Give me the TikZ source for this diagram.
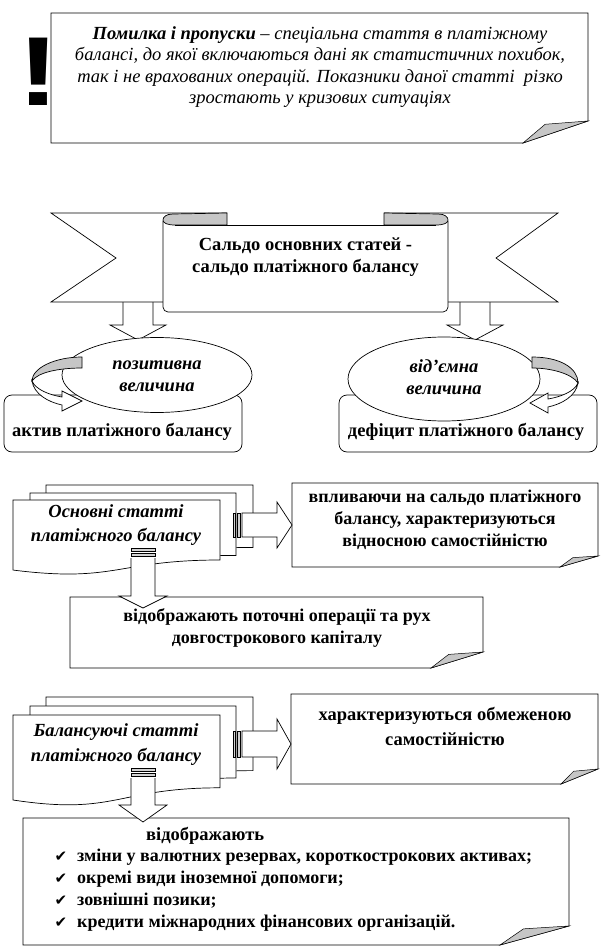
\documentclass[tikz,border=0pt]{standalone}
\usepackage{fontspec}
\setmainfont{Liberation Serif}
\newfontfamily\symfont{DejaVu Sans}
\newfontfamily\exclfont{Liberation Sans}
\usetikzlibrary{shapes.geometric,calc}
\newcommand\foldbox[6]{%
  \draw[line,fill=white] (#1,#2) -- (#3,#2) -- (#3,{#4-#6}) -- ({#3-#5},#4) -- (#1,#4) -- cycle;
  \draw[foldgray] (#3,{#4-#6}) -- ({#3-#5},#4) -- ({#3-#5*0.66},{#4-#6*0.85}) -- cycle;}
\newcommand\docshape[4]{%
  \draw[line,fill=white] (#1,#2) -- (#3,#2) -- (#3,{#2+0.8*#4})
    .. controls ({0.5*(#1+#3)},{#2+0.8*#4}) and ({0.5*(#1+#3)},{#2+1.107*#4}) .. (#1,{#2+0.934*#4}) -- cycle;}
% \blockdown{cx}{top}{headY}{tipY}{shaftHalf}{headHalf}
\newcommand\blockdown[6]{%
  \draw[line,fill=white] ({#1-#5},#2) -- ({#1-#5},#3) -- ({#1-#6},#3) -- (#1,#4) -- ({#1+#6},#3) -- ({#1+#5},#3) -- ({#1+#5},#2);}
\begin{document}
\begin{tikzpicture}[x=1pt,y=-1pt,
  line/.style={draw=black,line width=0.7pt},
  foldgray/.style={fill=gray!45,draw=black,line width=0.5pt},
  txt/.style={font=\fontsize{18.5}{21.5}\selectfont\bfseries,align=center,inner sep=0pt},
  itxt/.style={font=\fontsize{18.5}{21.5}\selectfont\bfseries\itshape,align=center,inner sep=0pt},
  stripe/.style={draw=black,line width=0.5pt,fill=gray!35}]
\fill[white] (0,0) rectangle (601,949);
\useasboundingbox (0,0) rectangle (601,949);

% ---------- top note ----------
\foldbox{51}{13}{588}{143}{65}{22}
\node[align=center,inner sep=0pt,font=\fontsize{18.5}{21.3}\selectfont\itshape] (note) at (320,67)
 {{\bfseries Помилка і пропуски} – спеціальна стаття в платіжному\\балансі, до якої включаються дані як статистичних похибок,\\так і не врахованих операцій. Показники даної статті\ \ різко\\зростають у кризових ситуаціях};
\node[font=\fontsize{98}{98}\selectfont\exclfont\bfseries,inner sep=0pt,xscale=1.3] (excl) at (38.5,72) {!};

% ---------- ribbon ----------
\blockdown{138}{298}{325}{340}{15}{28}
\blockdown{475}{298}{325}{340}{15}{28}
\draw[line,fill=white] (227,213) -- (51,213) -- (116,258) -- (51,302) -- (163,302);
\draw[line,fill=white] (384,213) -- (558,213) -- (496,258) -- (558,302) -- (448,302);
\draw[line,fill=white,rounded corners=5pt] (163,221) -- (163,312) -- (448,312) -- (448,221);
\draw[line] (175,225) -- (436,225);
\draw[line,fill=gray!45] (227,213) -- (173,214) .. controls (166,214) and (163,217) .. (163,220)
   .. controls (163,223) and (167,225) .. (175,225) -- (227,225) -- cycle;
\draw[line,fill=gray!45] (384,213) -- (438,214) .. controls (445,214) and (448,217) .. (448,220)
   .. controls (448,223) and (444,225) .. (436,225) -- (384,225) -- cycle;
\node[txt] (saldo) at (305.5,257) {Сальдо основних статей -\\сальдо платіжного балансу};

% ---------- ellipses and boxes ----------
\node[line,rounded corners=8pt,minimum width=238pt,minimum height=57pt,fill=white] (aktivbox) at (123,423.5) {};
\node[line,rounded corners=8pt,minimum width=258pt,minimum height=57pt,fill=white] (deficitbox) at (468,423.5) {};
\node[txt] (aktiv) at (122,432) {актив платіжного балансу};
\node[txt] (deficit) at (466,432) {дефіцит платіжного балансу};
\node[line,ellipse,fill=white,minimum width=190pt,minimum height=75pt,inner sep=0pt] (pos) at (157,375) {};
\node[line,ellipse,fill=white,minimum width=192pt,minimum height=84pt,inner sep=0pt] (neg) at (444,379) {};
\node[itxt] (post) at (157,376) {позитивна\\величина};
\node[itxt] (negt) at (444,377) {від’ємна\\величина};
% curved arrows
\draw[line,fill=gray!45] (82,357) .. controls (55,357) and (32,368) .. (32,381)
   .. controls (38,372) and (60,368) .. (82,368) -- cycle;
\draw[line,fill=white] (32,381) .. controls (34,394) and (48,402) .. (62,405) -- (62,411) -- (82,401)
   -- (62,391) -- (62,397) .. controls (50,395) and (36,390) .. (32,381) -- cycle;
\draw[line,fill=gray!45] (532,357) .. controls (560,357) and (578,368) .. (578,383)
   .. controls (572,374) and (552,368) .. (532,368) -- cycle;
\draw[line,fill=white] (578,383) .. controls (576,396) and (562,404) .. (548,407) -- (548,413) -- (530,403)
   -- (548,393) -- (548,399) .. controls (560,397) and (574,392) .. (578,383) -- cycle;

% ---------- section 1 ----------
\foldbox{292}{483}{598}{567}{38}{11}
\node[txt,font=\fontsize{18}{22}\selectfont\bfseries] (vplyv) at (445,520)
 {впливаючи на сальдо платіжного\\балансу, характеризуються\\відносною самостійністю};
\foldbox{70}{597}{483}{668}{52}{16}
\node[txt,font=\fontsize{18}{21.5}\selectfont\bfseries] (potochni) at (277,628) {відображають поточні операції та рух\\довгострокового капіталу};
\docshape{46}{485}{253}{78}
\docshape{30}{493}{236}{78}
\docshape{13}{500}{220}{75}
\node[itxt,font=\fontsize{18.5}{24}\selectfont\bfseries\itshape] (osn) at (116,525) {Основні статті\\платіжного балансу};
\draw[stripe] (233,513) rectangle (235.5,537);
\draw[stripe] (237.5,513) rectangle (240,537);
\draw[line,fill=white] (242,513) -- (277,513) -- (277,502) -- (292,525) -- (277,548) -- (277,537) -- (242,537) -- cycle;
\draw[stripe] (131,548) rectangle (155,551);
\draw[stripe] (131,553) rectangle (155,556);
\blockdown{143}{558}{596}{608}{12}{24}

% ---------- section 2 ----------
\foldbox{291}{694}{598}{784}{37}{15}
\node[txt,font=\fontsize{18.5}{25}\selectfont\bfseries] (obmezh) at (445,726) {характеризуються обмеженою\\самостійністю};
\foldbox{23}{818}{569}{945}{69}{19}
\docshape{46}{697}{253}{92}
\docshape{30}{706}{236}{90}
\docshape{13}{715}{220}{91}
\node[itxt,font=\fontsize{18.5}{25}\selectfont\bfseries\itshape] (bal) at (116,745) {Балансуючі статті\\платіжного балансу};
\draw[stripe] (233,731) rectangle (235.5,757);
\draw[stripe] (237.5,731) rectangle (240,757);
\draw[line,fill=white] (242,731) -- (277,731) -- (277,719) -- (291,744) -- (277,769) -- (277,757) -- (242,757) -- cycle;
\draw[stripe] (131,768) rectangle (155,771);
\draw[stripe] (131,773) rectangle (155,776);
\blockdown{143}{778}{805}{822}{12}{24}

\node[txt,anchor=west] (vidobr) at (146,836) {відображають};
\foreach \yy/\tt/\nm in {857/{зміни у валютних резервах, короткострокових активах;}/i1,
                      879/{окремі види іноземної допомоги;}/i2,
                      901/{зовнішні позики;}/i3,
                      923/{кредити міжнародних фінансових організацій.}/i4}{
  \node[font=\symfont\fontsize{15}{15}\selectfont,inner sep=0pt] (c\nm) at (61,\yy) {✔};
  \node[txt,anchor=west,font=\fontsize{18}{21}\selectfont\bfseries] (\nm) at (77,\yy) {\tt};
}
\end{tikzpicture}
\end{document}
